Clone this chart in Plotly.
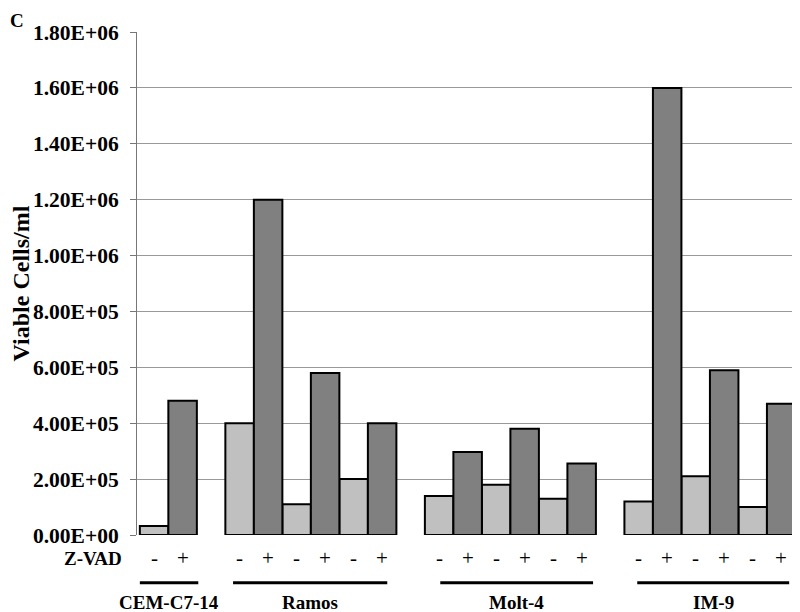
import plotly.graph_objects as go

groups = ["CEM-C7-14", "Ramos", "Molt-4", "IM-9"]
minus_vals = [[3.2e4], [4.0e5, 1.1e5, 2.0e5], [1.4e5, 1.8e5, 1.3e5], [1.2e5, 2.1e5, 1.0e5]]
plus_vals = [[4.8e5], [1.2e6, 5.8e5, 4.0e5], [2.97e5, 3.8e5, 2.56e5], [1.6e6, 5.9e5, 4.7e5]]
tick_vals = [0, 2e5, 4e5, 6e5, 8e5, 1e6, 1.2e6, 1.4e6, 1.6e6, 1.8e6]
tick_text = ["0.00E+00", "2.00E+05", "4.00E+05", "6.00E+05", "8.00E+05",
             "1.00E+06", "1.20E+06", "1.40E+06", "1.60E+06", "1.80E+06"]

FONT = "Liberation Serif, Times New Roman, serif"

# underline extents relative to the first/last bar of each group (style)
line_pad = [(-0.5, 0.55), (-0.23, 0.18), (0.04, 0.4), (-0.05, 0.28)]

# compute slot positions: pairs of bars, one empty slot between groups
xm, xp, ym, yp = [], [], [], []
group_spans = []
pos = 0
for gi, (mv, pv) in enumerate(zip(minus_vals, plus_vals)):
    start = pos
    for a, b in zip(mv, pv):
        xm.append(pos); ym.append(a)
        xp.append(pos + 1); yp.append(b)
        pos += 2
    group_spans.append((start, pos - 1))
    pos += 1

fig = go.Figure()
fig.add_trace(go.Bar(x=xm, y=ym, width=1, marker=dict(color="#c0c0c0", line=dict(color="black", width=2)), name="-"))
fig.add_trace(go.Bar(x=xp, y=yp, width=1, marker=dict(color="#808080", line=dict(color="black", width=2)), name="+"))

annotations = []
shapes = []
for x in xm:
    annotations.append(dict(x=x, y=-0.046, xref="x", yref="paper", text="-", showarrow=False,
                            font=dict(family=FONT, size=21, color="black"), yanchor="middle"))
for x in xp:
    annotations.append(dict(x=x, y=-0.046, xref="x", yref="paper", text="+", showarrow=False,
                            font=dict(family=FONT, size=21, color="black"), yanchor="middle"))
for gi, (g, (s, e)) in enumerate(zip(groups, group_spans)):
    x0, x1 = s + line_pad[gi][0], e + line_pad[gi][1]
    shapes.append(dict(type="line", xref="x", yref="paper", x0=x0, x1=x1, y0=-0.095, y1=-0.095,
                       line=dict(color="black", width=3)))
    annotations.append(dict(x=(x0 + x1) / 2, y=-0.134, xref="x", yref="paper", text="<b>%s</b>" % g,
                            showarrow=False, font=dict(family=FONT, size=19, color="black"), yanchor="middle"))

annotations.append(dict(x=-0.02, y=-0.046, xref="paper", yref="paper", text="<b>Z-VAD</b>", showarrow=False,
                        font=dict(family=FONT, size=19, color="black"), xanchor="right", yanchor="middle"))
annotations.append(dict(x=-0.1946, y=1.0477, xref="paper", yref="paper", text="<b>C</b>", showarrow=False,
                        font=dict(family=FONT, size=19, color="black"), xanchor="left", yanchor="top"))

# the page has an 8px body margin, so the figure is sized/offset to compensate
fig.update_layout(
    width=792, height=604,
    margin=dict(l=129, r=0, t=24, b=77, autoexpand=False),
    plot_bgcolor="white", paper_bgcolor="white",
    showlegend=False, barmode="overlay",
    xaxis=dict(range=[-0.6, 22.66], showticklabels=False, showgrid=False, zeroline=False,
               showline=False, ticks="", automargin=False),
    yaxis=dict(range=[0, 1.8e6], tickvals=tick_vals, ticktext=tick_text, automargin=False,
               tickfont=dict(family=FONT, size=21.5, color="black", weight="bold"),
               ticklabelstandoff=7,
               showgrid=True, gridcolor="#999999", gridwidth=1,
               showline=True, linecolor="#777777", linewidth=1,
               ticks="outside", ticklen=6, tickcolor="#777777",
               zeroline=False,
               title=dict(text="<b>Viable Cells/ml</b>", font=dict(family=FONT, size=24, color="black"))),
    annotations=annotations, shapes=shapes,
)
fig.write_html("out.html")
